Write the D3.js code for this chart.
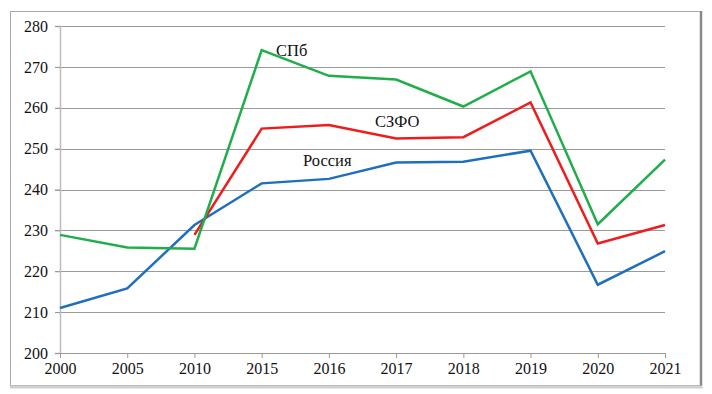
<!DOCTYPE html>
<html><head><meta charset="utf-8">
<script src="https://cdn.jsdelivr.net/npm/d3@7/dist/d3.min.js"></script>
<style>body{margin:0;background:#fff}svg{display:block}
svg text{font-family:"Liberation Serif","Times New Roman","DejaVu Serif",serif !important;}</style>
</head><body>
<svg id="c" width="712" height="394"></svg>
<script>
const years = ["2000","2005","2010","2015","2016","2017","2018","2019","2020","2021"];
const russia = [211.0, 215.8, 231.3, 241.5, 242.6, 246.6, 246.8, 249.5, 216.7, 224.9];
const szfo   = [null, null, 228.9, 254.9, 255.8, 252.5, 252.8, 261.3, 226.8, 231.3];
const spb    = [228.9, 225.8, 225.5, 274.1, 267.8, 266.9, 260.3, 268.9, 231.5, 247.3];
const yTicks = [200, 210, 220, 230, 240, 250, 260, 270, 280];
const seriesNames = ["Россия", "СЗФО", "СПб"];

const svg = d3.select("#c");

// frame
svg.append("rect").attr("x",10.5).attr("y",11.5).attr("width",690).attr("height",374)
  .attr("fill","#fff").attr("stroke","#a8a8a8").attr("stroke-width",1);
svg.append("line").attr("x1",701).attr("x2",701).attr("y1",11).attr("y2",388)
  .attr("stroke","#8a8a8a").attr("stroke-width",2.5);
svg.append("line").attr("x1",10).attr("x2",702).attr("y1",387).attr("y2",387)
  .attr("stroke","#d0d0d0").attr("stroke-width",3);

const x = d3.scalePoint().domain(years).range([60, 665]).padding(0);
const y = d3.scaleLinear().domain([200, 280]).range([353, 26]);

// gridlines
svg.append("g").selectAll("line").data(yTicks.filter(t => t > 200)).join("line")
  .attr("x1",55).attr("x2",665)
  .attr("y1",d=>Math.round(y(d))+0.5).attr("y2",d=>Math.round(y(d))+0.5)
  .attr("stroke","#9a9a9a").attr("stroke-width",1);

// y axis
const ya = svg.append("g").attr("transform","translate(60,0)")
  .call(d3.axisLeft(y).tickValues(yTicks).tickSize(5).tickPadding(7).tickFormat(d3.format("d")));
ya.attr("font-family", null);
ya.select(".domain").attr("stroke","#bdbdbd").attr("stroke-width",1.5);
ya.selectAll(".tick line").attr("stroke","#9a9a9a");
ya.selectAll("text").attr("font-size",16).attr("fill","#111");

// x axis
const xa = svg.append("g").attr("transform","translate(0,353)")
  .call(d3.axisBottom(x).tickSize(5).tickPadding(5));
xa.attr("font-family", null);
xa.select(".domain").attr("stroke","#9a9a9a").attr("stroke-width",1);
xa.selectAll(".tick line").attr("stroke","#9a9a9a");
xa.selectAll("text").attr("font-size",16).attr("fill","#111");

const line = d3.line().defined(d => d.v !== null).x(d => x(d.k)).y(d => y(d.v));
const series = [
  {name: seriesNames[0], vals: russia, color: "#1f6fbf"},
  {name: seriesNames[1], vals: szfo, color: "#ee1c1c"},
  {name: seriesNames[2], vals: spb, color: "#1fae4a"}
];
svg.append("g").selectAll("path").data(series).join("path")
  .attr("d", s => line(years.map((k,i)=>({k, v:s.vals[i]}))))
  .attr("fill","none").attr("stroke", s=>s.color).attr("stroke-width",2.5)
  .attr("stroke-linejoin","miter");

// labels
const labels = [
  {t: seriesNames[2], x: 276, y: 56},
  {t: seriesNames[1], x: 375, y: 127},
  {t: seriesNames[0], x: 303, y: 166}
];
svg.append("g").selectAll("text").data(labels).join("text")
  .attr("x",d=>d.x).attr("y",d=>d.y).text(d=>d.t)
  .attr("font-size",16.5).attr("fill","#111");
</script>
</body></html>
